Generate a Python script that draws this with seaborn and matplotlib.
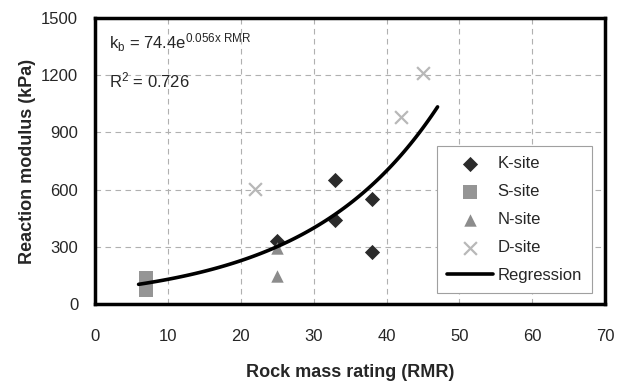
import numpy as np
import pandas as pd
import seaborn as sns
import matplotlib.pyplot as plt

# point data
k_rmr = [33, 33, 25, 38, 38]
k_mod = [650, 440, 330, 550, 275]
s_rmr = [7, 7]
s_mod = [135, 75]
n_rmr = [25, 25]
n_mod = [293, 147]
d_rmr = [22, 42, 45]
d_mod = [605, 980, 1210]

# regression kb = a * exp(b * RMR)
reg_a = 74.4
reg_b = 0.056
reg_range = [6, 47]

sns.set_style('white')
plt.rcParams['font.family'] = ['Liberation Sans', 'DejaVu Sans']
plt.rcParams['mathtext.fontset'] = 'custom'
plt.rcParams['mathtext.rm'] = 'Liberation Sans'
plt.rcParams['mathtext.it'] = 'Liberation Sans'

fig = plt.figure(figsize=(6.24, 3.92), dpi=100)
ax = fig.add_axes([0.152, 0.224, 0.818, 0.73])

sites = [
    ('K-site', k_rmr, k_mod, 'D', '#2b2b2b', 60),
    ('S-site', s_rmr, s_mod, 's', '#959595', 95),
    ('N-site', n_rmr, n_mod, '^', '#8c8c8c', 80),
    ('D-site', d_rmr, d_mod, 'x', '#b8b8b8', 85),
]
for name, xs, ys, m, c, sz in sites:
    df = pd.DataFrame({'RMR': xs, 'kb': ys})
    sns.scatterplot(data=df, x='RMR', y='kb', marker=m, color=c, s=sz,
                    linewidth=1.6 if m == 'x' else 0, label=name, ax=ax, zorder=3)

xr = np.linspace(reg_range[0], reg_range[1], 100)
reg = pd.DataFrame({'RMR': xr, 'kb': reg_a * np.exp(reg_b * xr)})
sns.lineplot(data=reg, x='RMR', y='kb', color='black', linewidth=2.6,
             label='Regression', ax=ax, zorder=4)

ax.set_xlim(0, 70)
ax.set_ylim(0, 1500)
ax.set_xticks(range(0, 71, 10))
ax.set_yticks(range(0, 1501, 300))
ax.grid(True, color='#b0b0b0', linestyle=(0, (5, 4)), linewidth=0.8)
for sp in ax.spines.values():
    sp.set_linewidth(2.5)
    sp.set_color('black')
ax.tick_params(axis='x', labelsize=12, length=0, pad=18)
ax.tick_params(axis='y', labelsize=12, length=0, pad=12)
ax.set_xlabel('Rock mass rating (RMR)', fontsize=13, fontweight='bold', labelpad=14)
ax.set_ylabel('Reaction modulus (kPa)', fontsize=13, fontweight='bold', labelpad=4)

ax.text(2.0, 1340, r'k$_{\mathrm{b}}$ = 74.4e$^{0.056\mathrm{x\ RMR}}$', fontsize=12)
ax.text(2.0, 1135, r'R$^{2}$ = 0.726', fontsize=12)

leg = ax.legend(loc='lower right', fontsize=12, frameon=True, fancybox=False,
                edgecolor='#a0a0a0', framealpha=1, borderpad=0.6,
                labelspacing=0.78, handletextpad=0.25, handlelength=2.8,
                bbox_to_anchor=(0.99, 0.01))
leg.get_frame().set_linewidth(0.8)

fig.savefig('out.png', dpi=100)
